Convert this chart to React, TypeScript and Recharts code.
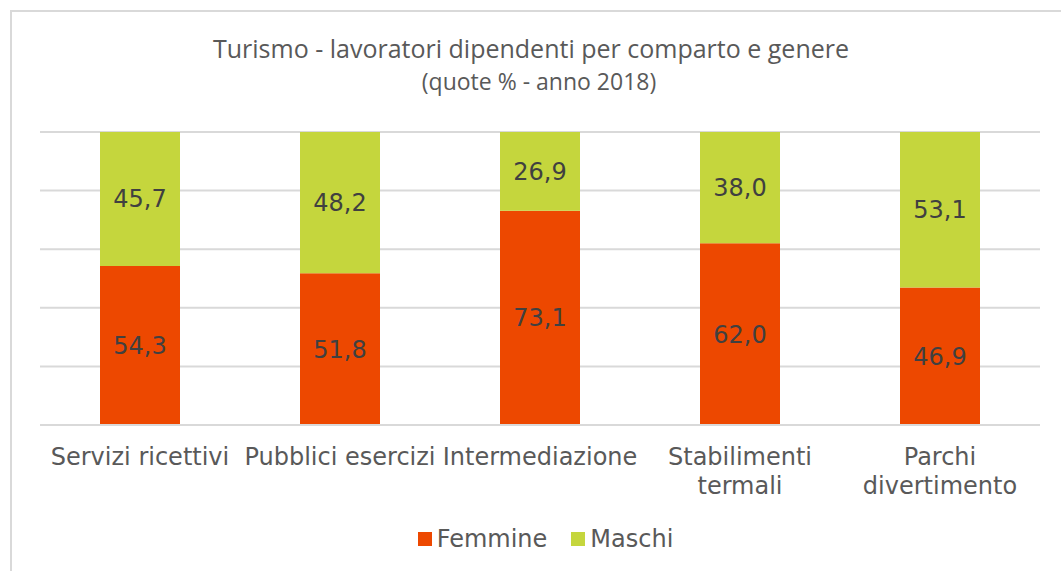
import React from 'react';
import { BarChart, Bar, XAxis, YAxis, CartesianGrid, Legend, LabelList } from 'recharts';

// Data (quote %, anno 2018)
const categories = ['Servizi ricettivi', 'Pubblici esercizi', 'Intermediazione', 'Stabilimenti termali', 'Parchi divertimento'];
const femmine = [54.3, 51.8, 73.1, 62.0, 46.9];
const maschi = [45.7, 48.2, 26.9, 38.0, 53.1];
const yTicks = [0, 20, 40, 60, 80, 100];

const data = categories.map((name, i) => ({ name, femmine: femmine[i], maschi: maschi[i] }));

const FONT = '"DejaVu Sans", Verdana, sans-serif';
const ORANGE = '#ED4800';
const GREEN = '#C5D63D';

const fmt = (v: any) => Number(v).toFixed(1).replace('.', ',');

// long labels wrap onto two lines, like the original
const CategoryTick = (props: any) => {
  const { x, y, payload } = props;
  const label: string = payload.value;
  const lines = label.length >= 19 ? label.split(' ') : [label];
  return (
    <text x={x} y={y} textAnchor="middle" fill="#595959" fontSize={24} fontFamily={FONT}>
      {lines.map((l, i) => (
        <tspan key={i} x={x} y={y + 32 + i * 29}>{l}</tspan>
      ))}
    </text>
  );
};

const LegendContent = (props: any) => {
  const { payload = [] } = props;
  return (
    <div style={{ display: 'flex', justifyContent: 'center', paddingLeft: 30, fontFamily: FONT, fontSize: 24, color: '#595959' }}>
      {payload.map((p: any, i: number) => (
        <div key={i} style={{ display: 'flex', alignItems: 'center', marginRight: i === 0 ? 24 : 0 }}>
          <span style={{ width: 14, height: 14, background: p.color, display: 'inline-block', marginRight: 5 }} />
          <span>{p.value}</span>
        </div>
      ))}
    </div>
  );
};

export default function App() {
  return (
    <div style={{ position: 'absolute', left: 0, top: 0, width: 1061, height: 571, overflow: 'hidden', background: '#fff' }}>
      <div style={{ position: 'absolute', left: 10, top: 10, width: 1100, height: 600, border: '2px solid #d9d9d9', boxSizing: 'border-box' }} />
      <svg width={1061} height={110} style={{ position: 'absolute', left: 0, top: 0 }}>
        <text x={531} y={58} textAnchor="middle" fill="#595959" fontSize={25} fontFamily='"Open Sans", sans-serif'>
          Turismo - lavoratori dipendenti per comparto e genere
        </text>
        <text x={539} y={90} textAnchor="middle" fill="#595959" fontSize={23} fontFamily='"Open Sans", sans-serif'>
          (quote % - anno 2018)
        </text>
      </svg>
      <div style={{ position: 'absolute', left: 0, top: 0 }}>
        <BarChart width={1061} height={571} data={data} margin={{ top: 132, right: 21, left: 40, bottom: 0 }} barCategoryGap={60}>
          <CartesianGrid vertical={false} stroke="#d9d9d9" strokeWidth={2} />
          <YAxis hide domain={[0, 100]} ticks={yTicks} />
          <XAxis dataKey="name" height={146} axisLine={{ stroke: '#d9d9d9', strokeWidth: 2 }} tickLine={false} tick={<CategoryTick />} interval={0} />
          <Legend
            layout="horizontal"
            verticalAlign="middle"
            align="center"
            content={<LegendContent />}
            wrapperStyle={{ position: 'absolute', top: 525, left: 0, width: 1061 }}
          />
          <Bar dataKey="femmine" name="Femmine" stackId="a" fill={ORANGE} isAnimationActive={false}>
            <LabelList dataKey="femmine" position="center" formatter={fmt} fill="#404040" fontSize={24} fontFamily={FONT} />
          </Bar>
          <Bar dataKey="maschi" name="Maschi" stackId="a" fill={GREEN} isAnimationActive={false}>
            <LabelList dataKey="maschi" position="center" formatter={fmt} fill="#404040" fontSize={24} fontFamily={FONT} />
          </Bar>
        </BarChart>
      </div>
    </div>
  );
}
